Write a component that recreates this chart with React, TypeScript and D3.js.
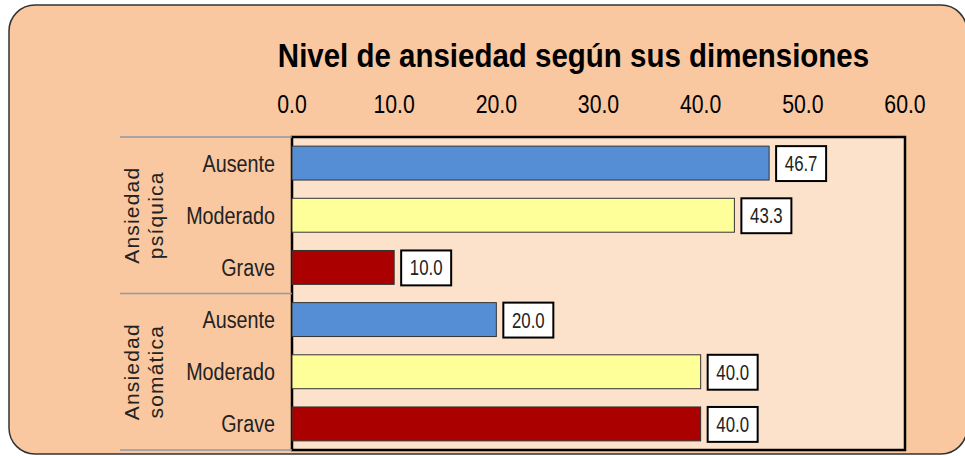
import React from "react";
import * as d3 from "d3";

const groups = ["Ansiedad|psíquica", "Ansiedad|somática"];
const levels = ["Ausente", "Moderado", "Grave"];
const psiquica = [46.7, 43.3, 10.0];
const somatica = [20.0, 40.0, 40.0];
const tickValues = [0, 10, 20, 30, 40, 50, 60];
const levelColors = ["#558ED5", "#FFFF99", "#AA0000"];

const W = 965;
const H = 456;
const plot = { left: 292, right: 905, top: 137, bottom: 450 };
const sans = "'Liberation Sans', Arial, sans-serif";

function NText({
  x,
  y,
  sx,
  anchor,
  size,
  weight,
  fill,
  children,
}: {
  x: number;
  y: number;
  sx: number;
  anchor: string;
  size: number;
  weight?: string;
  fill: string;
  children: React.ReactNode;
}) {
  return (
    <text
      transform={`translate(${x},${y}) scale(${sx},1)`}
      textAnchor={anchor}
      fontFamily={sans}
      fontSize={size}
      fontWeight={weight || "normal"}
      fill={fill}
    >
      {children}
    </text>
  );
}

export default function App() {
  const rows = [
    ...levels.map((l, i) => ({ key: `g0-${l}`, level: l, li: i, value: psiquica[i], group: 0 })),
    ...levels.map((l, i) => ({ key: `g1-${l}`, level: l, li: i, value: somatica[i], group: 1 })),
  ];
  const x = d3.scaleLinear().domain([0, 60]).range([plot.left, plot.right]);
  const y = d3
    .scaleBand<string>()
    .domain(rows.map((r) => r.key))
    .range([plot.top, plot.bottom])
    .paddingInner(0.35)
    .paddingOuter(0.175);
  const step = y.step();
  const groupTop = (g: number) => plot.top + g * 3 * step;

  return (
    <svg
      width={W}
      height={H}
      style={{ position: "absolute", left: 0, top: 0, background: "#ffffff" }}
    >
      <rect x={9} y={5} width={958} height={449} rx={26} ry={26} fill="#F9C8A0" stroke="#333" strokeWidth={1.5} />
      <NText x={573.5} y={67} sx={0.88} anchor="middle" size={33.5} weight="bold" fill="#000">
        Nivel de ansiedad según sus dimensiones
      </NText>
      {tickValues.map((t) => (
        <NText key={t} x={x(t)} y={113} sx={0.85} anchor="middle" size={25} fill="#000">
          {d3.format(".1f")(t)}
        </NText>
      ))}
      <rect
        x={plot.left}
        y={plot.top}
        width={plot.right - plot.left}
        height={plot.bottom - plot.top}
        fill="#FDE2CB"
        stroke="#000"
        strokeWidth={2.5}
      />
      {[0, 1, 2].map((g) => (
        <line
          key={g}
          x1={120}
          x2={plot.left}
          y1={plot.top + g * 3 * step}
          y2={plot.top + g * 3 * step}
          stroke="#8E9AA6"
          strokeWidth={1.5}
        />
      ))}
      {rows.map((r) => {
        const by = y(r.key)!;
        const bw = x(r.value) - x(0);
        const lx = x(r.value) + 7;
        const lh = y.bandwidth();
        return (
          <g key={r.key}>
            <rect x={x(0)} y={by} width={bw} height={lh} fill={levelColors[r.li]} stroke="#333" strokeWidth={1} />
            <rect x={lx} y={by} width={50} height={lh + 1} fill="#fff" stroke="#000" strokeWidth={2} />
            <NText x={lx + 25} y={by + lh / 2 + 8} sx={0.78} anchor="middle" size={21.5} fill="#222">
              {d3.format(".1f")(r.value)}
            </NText>
            <NText x={275} y={by + lh / 2 + 8.5} sx={0.84} anchor="end" size={23.5} fill="#222">
              {r.level}
            </NText>
          </g>
        );
      })}
      {groups.map((g, gi) => {
        const cy = groupTop(gi) + 1.5 * step;
        const [l1, l2] = g.split("|");
        return (
          <g key={g} transform={`translate(0,${cy}) rotate(-90)`}>
            <text x={0} y={139} textAnchor="middle" fontFamily={sans} fontSize={21} letterSpacing={1.2} fill="#222">
              {l1}
            </text>
            <text x={0} y={163} textAnchor="middle" fontFamily={sans} fontSize={21} letterSpacing={1.2} fill="#222">
              {l2}
            </text>
          </g>
        );
      })}
    </svg>
  );
}
